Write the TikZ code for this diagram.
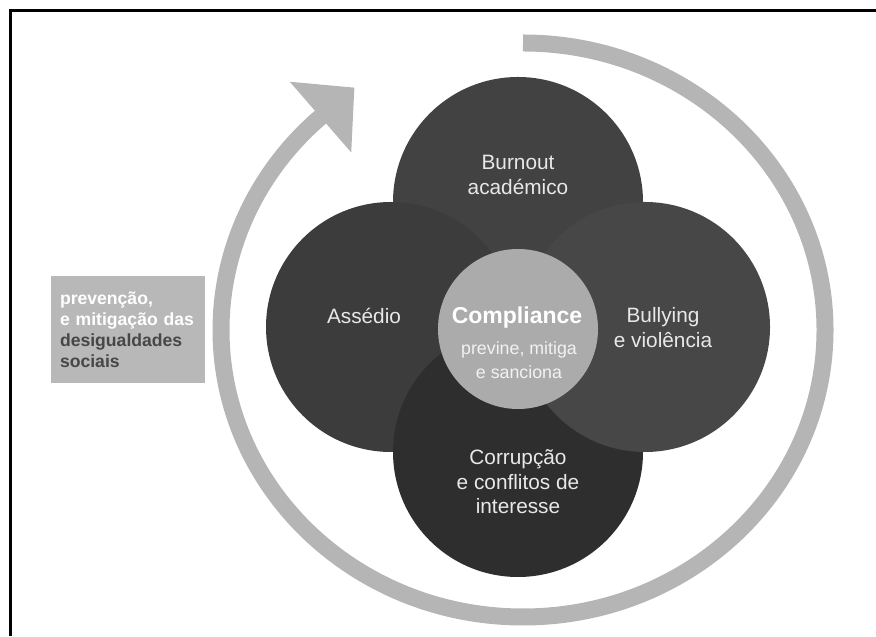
\documentclass[tikz,border=0pt]{standalone}
\usepackage{fontspec}
\setmainfont{Liberation Sans}
\usepackage{tikz}
\usetikzlibrary{arrows.meta,positioning,calc}

\definecolor{ringgray}{HTML}{B5B5B5}
\definecolor{boxgray}{HTML}{B8B8B8}
\definecolor{coregray}{HTML}{ABABAB}
\definecolor{petaltxt}{HTML}{E8E8E8}
\definecolor{boxtxt}{HTML}{474747}

\begin{document}
\begin{tikzpicture}[x=0.5pt, y=0.5pt,
petal/.style={circle, inner sep=0pt, minimum size=125pt},
petaltext/.style={text=petaltxt, font=\fontsize{10.4}{12.5}\selectfont, align=center, inner sep=0pt},
ring/.style={draw=ringgray, line width=8.5pt},
]
\useasboundingbox (0,0) rectangle (876,636);
\draw[line width=1.5pt] (10,0) -- (10,625) -- (876,625);

\coordinate (C) at (523,306);
\draw[ring, -{Triangle[width=45.5pt, length=22.5pt]}] ($(C)+(0,287)$)
  arc[start angle=90, end angle=-227.5, x radius=302, y radius=287] -- ++(41:47);

\node[petal, fill={rgb,255:red,66;green,66;blue,66}] (burnout) at (518,434) {};
\node[petal, fill={rgb,255:red,60;green,60;blue,60}] (assedio) at (391,309) {};
\node[petal, fill={rgb,255:red,46;green,46;blue,46}] (corrupcao) at (518,184) {};
\node[petal, fill={rgb,255:red,71;green,71;blue,71}] (bullying) at (645,309) {};
\node[circle, inner sep=0pt, minimum size=80pt, fill=coregray] (core) at (518,307) {};

\node[petaltext] (burnouttxt) at (518,461) {Burnout\\académico};
\node[petaltext] (assediotxt) at (364,320) {Assédio};
\node[petaltext] (bullyingtxt) at (663,308.5) {Bullying\\e violência};
\node[petaltext, font=\fontsize{10.4}{12.2}\selectfont] (corrupcaotxt) at (518,154) {Corrupção\\e conflitos de\\interesse};
\node[petaltext, text=white, font=\bfseries\fontsize{11.5}{13}\selectfont] (compliance) at (517,318) {Compliance};
\node[petaltext, text=white!95!black, font=\fontsize{8.9}{12}\selectfont] (sanctions) at (519,276) {previne, mitiga\\e sanciona};

\node[fill=boxgray, minimum width=77pt, minimum height=53.5pt, text width=68pt, inner xsep=4.5pt,
  align=left, font=\bfseries\fontsize{8.8}{10.5}\selectfont] (goal) at (128,306.5)
  {\textcolor{white}{prevenção,}\\\textcolor{white}{e mitigação das}\\\textcolor{boxtxt}{desigualdades}\\\textcolor{boxtxt}{sociais}};

%\draw[red] (C) circle (2);
\end{tikzpicture}
\end{document}
